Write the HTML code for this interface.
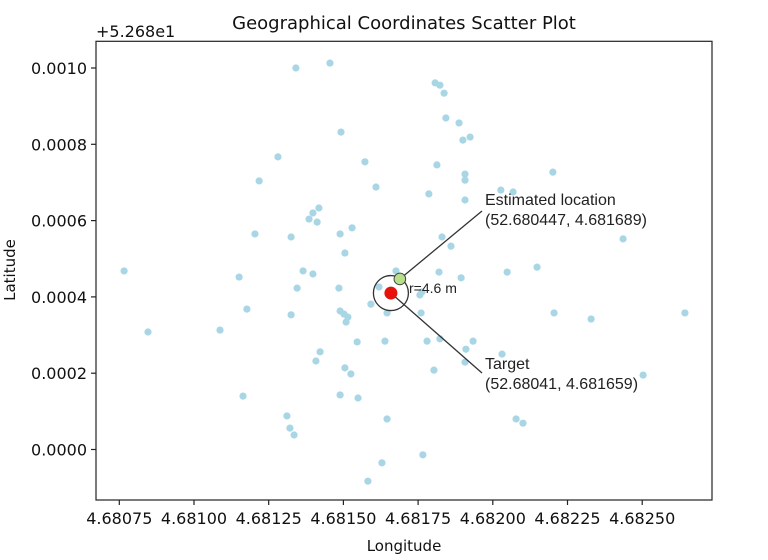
<!DOCTYPE html>
<html><head><meta charset="utf-8"><style>
html,body{margin:0;padding:0;background:#fff;}
svg{display:block;font-family:"DejaVu Sans","Liberation Sans",sans-serif;}
.ann{font-family:"Liberation Sans","DejaVu Sans",sans-serif;}
</style></head><body>
<svg id="chart" width="768" height="560" viewBox="0 0 768 560">
<text x="404" y="29" font-size="18" text-anchor="middle" fill="#111">Geographical Coordinates Scatter Plot</text>
<text x="96" y="37" font-size="16" fill="#111">+5.268e1</text>
<g id="points"></g>
<g id="annot"></g>
<rect x="96" y="41.3" width="616" height="458.7" fill="none" stroke="#222" stroke-width="1.2"/>
<g id="xticks"></g>
<g id="yticks"></g>
<text x="404" y="551" font-size="15" text-anchor="middle" fill="#111">Longitude</text>
<text x="0" y="0" font-size="15" text-anchor="middle" fill="#111" transform="translate(15,270) rotate(-90)">Latitude</text>
</svg>
<script>
// Data: longitude / latitude offsets in micro-degrees (lon = 4.68 + v*1e-6, lat = 52.68 + v*1e-6)
const lonMicro = [1341,1455,1807,1823,1837,1843,1887,1924,1900,1492,1281,1572,1813,1907,1907,1609,1786,1907,2027,2068,2201,1218,
1204,1325,1418,1398,1385,1412,1529,1489,1830,1860,1505,2436,
766,1151,1365,1398,1345,1676,1820,1894,2048,2148,1485,1619,1763,1756,1592,
1177,1325,846,1087,1489,1502,1515,1509,1646,1760,2205,2329,2643,
1546,1639,1780,1823,1934,1910,2031,1422,1408,1907,1505,1525,1803,2503,
1489,1549,1164,1311,1321,1335,1646,1766,1629,1582,2078,2101];
const latMicro = [1000,1013,961,955,934,869,856,819,811,832,767,754,746,722,706,688,670,654,680,675,727,704,
565,557,633,620,604,596,581,565,557,533,515,552,
468,452,468,460,423,468,465,450,465,478,423,426,413,405,381,
368,353,308,313,363,355,347,334,358,358,358,342,358,
282,284,284,290,284,263,250,256,232,229,214,198,208,195,
143,135,140,88,56,38,80,-14,-35,-83,80,69];
const targetPt = [4.681659, 52.68041];
const estimatePt = [4.681689, 52.680447];
const xTicks = [4.68075,4.68100,4.68125,4.68150,4.68175,4.68200,4.68225,4.68250];
const xTickLabels = ["4.68075","4.68100","4.68125","4.68150","4.68175","4.68200","4.68225","4.68250"];
const yTicks = [0.0000,0.0002,0.0004,0.0006,0.0008,0.0010];
const yTickLabels = ["0.0000","0.0002","0.0004","0.0006","0.0008","0.0010"];

const NS="http://www.w3.org/2000/svg";
function xs(lon){return 119.3 + (lon-4.68075)/0.00025*74.7;}
function ys(latOff){return 449.5 - latOff/0.0002*76.3;}
function mk(tag,attrs,parent){const e=document.createElementNS(NS,tag);for(const k in attrs)e.setAttribute(k,attrs[k]);parent.appendChild(e);return e;}

const pg=document.getElementById('points');
for(let i=0;i<lonMicro.length;i++){
  const c=mk('circle',{cx:xs(4.68+lonMicro[i]*1e-6),cy:ys(latMicro[i]*1e-6),r:3.6,fill:'#a9d6e5'},pg);
  
  
}
const ag=document.getElementById('annot');
const tx=xs(targetPt[0]), ty=ys(targetPt[1]-52.68);
const ex=xs(estimatePt[0]), ey=ys(estimatePt[1]-52.68);
const ring=mk('circle',{cx:tx,cy:ty,r:17.5,fill:'none',stroke:'#333','stroke-width':1.3},ag);


const l1=mk('line',{x1:ex,y1:ey,x2:482,y2:211,stroke:'#333','stroke-width':1.3},ag);


const l2=mk('line',{x1:tx,y1:ty,x2:482,y2:373,stroke:'#333','stroke-width':1.3},ag);


const tp=mk('circle',{cx:tx,cy:ty,r:6.5,fill:'#e8120c'},ag);


const ep=mk('circle',{cx:ex,cy:ey,r:5.8,fill:'#b7df8a',stroke:'#444','stroke-width':1},ag);


function txt(x,y,s,size,name){const t=mk('text',{x:x,y:y,'font-size':size,fill:'#222','class':'ann'},ag);t.textContent=s;}
txt(409,293,'r=4.6 m',14,'radius-label');
txt(485,205,'Estimated location',16,'estimate-label');
txt(485,225,'(52.680447, 4.681689)',16,'estimate-coords');
txt(485,369,'Target',16,'target-label');
txt(485,389,'(52.68041, 4.681659)',16,'target-coords');

const xg=document.getElementById('xticks');
xTicks.forEach((v,i)=>{
  const x=xs(v);
  const l=mk('line',{x1:x,y1:500,x2:x,y2:505,stroke:'#222','stroke-width':1.2},xg);
  
  
  const t=mk('text',{x:x,y:524,'font-size':16,'text-anchor':'middle',fill:'#111'},xg);
  t.textContent=xTickLabels[i];
  
  
});
const yg=document.getElementById('yticks');
yTicks.forEach((v,i)=>{
  const y=ys(v);
  const l=mk('line',{x1:91,y1:y,x2:96,y2:y,stroke:'#222','stroke-width':1.2},yg);
  
  
  const t=mk('text',{x:87,y:y+6,'font-size':16,'text-anchor':'end',fill:'#111'},yg);
  t.textContent=yTickLabels[i];
  
  
});
</script>
</body></html>
